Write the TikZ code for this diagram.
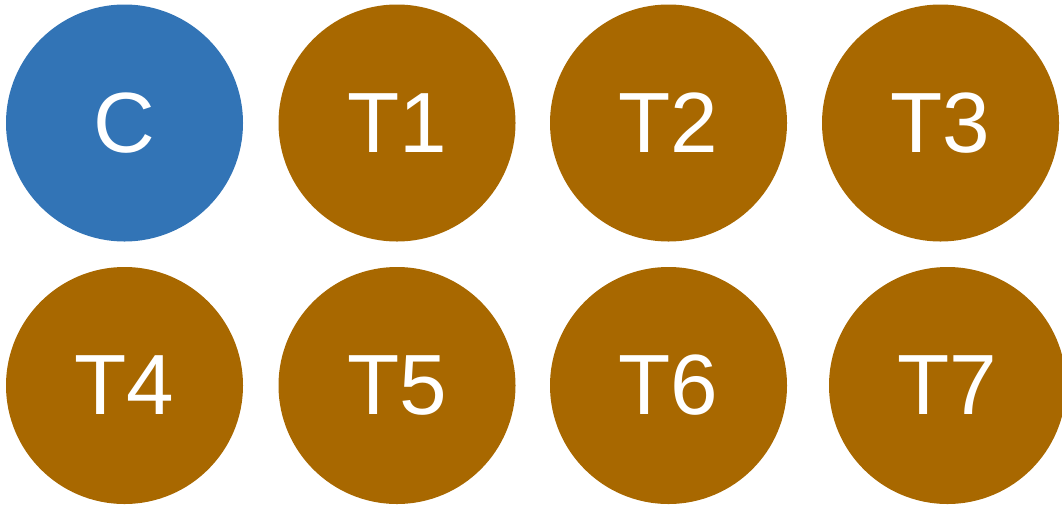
\documentclass[tikz,border=0pt]{standalone}
\usepackage{fontspec}
\setmainfont{Liberation Sans}
\definecolor{cblue}{HTML}{3274B6}
\definecolor{tbrown}{HTML}{A86800}
\begin{document}
\begin{tikzpicture}[x=1pt,y=-1pt,
  ball/.style={circle,minimum size=237pt,inner sep=0pt,text=white,
    text height=61pt,text depth=3pt,
    font=\fontsize{85.5}{85.5}\selectfont},
  cball/.style={ball,fill=cblue},
  tball/.style={ball,fill=tbrown}]
\useasboundingbox (0,0) rectangle (1062,504);
\node[cball] (C) at (124.5,123) {C};
\node[tball] (T1) at (397,123) {T1};
\node[tball] (T2) at (668.5,123) {T2};
\node[tball] (T3) at (940.5,123) {T3};
\node[tball] (T4) at (124.5,385.5) {T4};
\node[tball] (T5) at (397,385.5) {T5};
\node[tball] (T6) at (668.5,385.5) {T6};
\node[tball] (T7) at (947.5,385.5) {T7};
\end{tikzpicture}
\end{document}
